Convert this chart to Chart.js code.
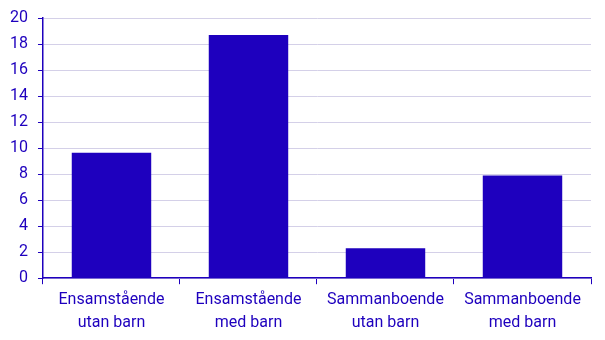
<!DOCTYPE html>
<html>
<head>
<meta charset="utf-8">
<script src="https://cdn.jsdelivr.net/npm/chart.js@4"></script>
<style>
  html, body { margin: 0; padding: 0; background: #ffffff; }
  #wrap { width: 605px; height: 340px; }
</style>
</head>
<body>
<div id="wrap"><canvas id="chart"></canvas></div>
<script>
// data
const categories = [
  ['Ensamstående', 'utan barn'],
  ['Ensamstående', 'med barn'],
  ['Sammanboende', 'utan barn'],
  ['Sammanboende', 'med barn']
];
const values = [9.65, 18.7, 2.3, 7.9];

const blue = '#1e00be';

new Chart(document.getElementById('chart'), {
  type: 'bar',
  data: {
    labels: categories,
    datasets: [{
      data: values,
      backgroundColor: blue,
      borderWidth: 0,
      categoryPercentage: 1,
      barPercentage: 0.58
    }]
  },
  options: {
    responsive: true,
    maintainAspectRatio: false,
    animation: false,
    layout: { padding: { top: 0, right: 14, left: 0, bottom: 1 } },
    plugins: {
      legend: { display: false },
      tooltip: { enabled: false }
    },
    scales: {
      x: {
        grid: {
          display: true,
          drawOnChartArea: false,
          color: blue,
          tickLength: 6,
          lineWidth: 1
        },
        border: { color: blue, width: 1.5 },
        ticks: {
          color: blue,
          font: { family: 'Roboto', size: 16, lineHeight: 1.4 },
          padding: 5,
          maxRotation: 0
        }
      },
      y: {
        min: 0,
        max: 20,
        ticks: {
          stepSize: 2,
          color: blue,
          font: { family: 'Roboto', size: 16, lineHeight: 1 },
          padding: 10
        },
        grid: {
          color: '#d4d0e8',
          tickColor: blue,
          tickLength: 5,
          lineWidth: 1
        },
        border: { color: blue, width: 1.5 }
      }
    }
  }
});
</script>
</body>
</html>
